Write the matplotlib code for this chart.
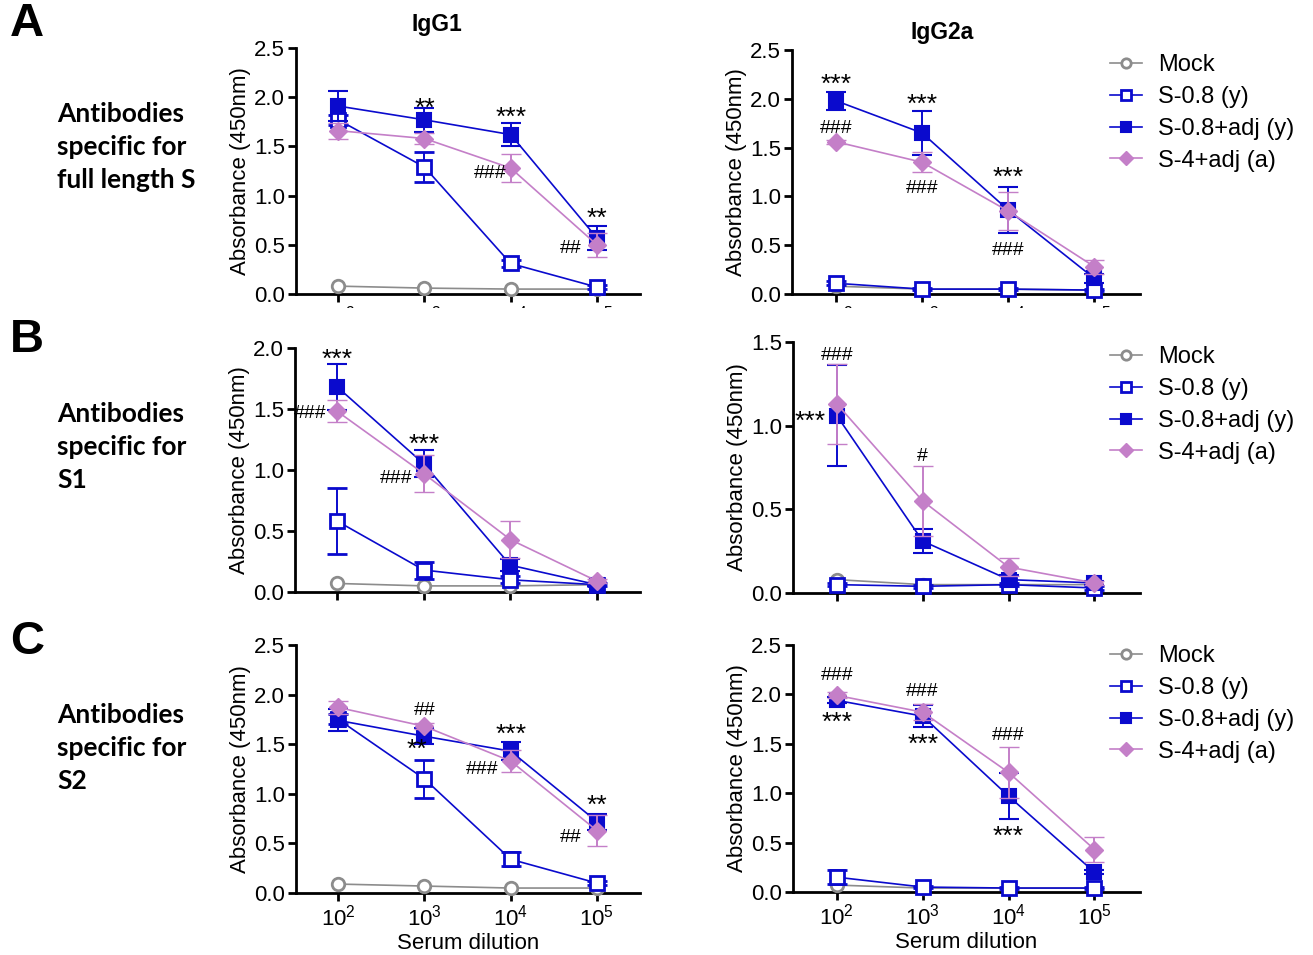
import numpy as np
import matplotlib
matplotlib.use("Agg")
import matplotlib.pyplot as plt
from matplotlib.patches import Rectangle

plt.rcParams['font.family'] = ['Liberation Sans', 'DejaVu Sans']
plt.rcParams['mathtext.fontset'] = 'custom'
plt.rcParams['mathtext.rm'] = 'Liberation Sans'
plt.rcParams['mathtext.it'] = 'Liberation Sans'

# Serum dilutions
dilution = [1e2, 1e3, 1e4, 1e5]
groups = ['Mock', 'S-0.8 (y)', 'S-0.8+adj (y)', 'S-4+adj (a)']

# Mean absorbance per panel: rows = groups, columns = dilutions
fl_igg1 = [[0.08, 0.06, 0.05, 0.05],
           [1.77, 1.29, 0.31, 0.07],
           [1.91, 1.77, 1.62, 0.57],
           [1.66, 1.58, 1.28, 0.50]]
fl_igg1_err = [[0.0, 0.0, 0.0, 0.0],
               [0.05, 0.15, 0.04, 0.02],
               [0.15, 0.12, 0.12, 0.12],
               [0.08, 0.06, 0.14, 0.12]]
fl_igg2a = [[0.08, 0.05, 0.05, 0.04],
            [0.11, 0.05, 0.05, 0.04],
            [1.98, 1.65, 0.86, 0.16],
            [1.56, 1.35, 0.85, 0.28]]
fl_igg2a_err = [[0.0, 0.0, 0.0, 0.0],
                [0.02, 0.01, 0.01, 0.01],
                [0.09, 0.23, 0.24, 0.05],
                [0.02, 0.10, 0.19, 0.07]]
s1_igg1 = [[0.07, 0.05, 0.05, 0.06],
           [0.58, 0.18, 0.10, 0.06],
           [1.68, 1.05, 0.22, 0.06],
           [1.48, 0.97, 0.43, 0.09]]
s1_igg1_err = [[0.0, 0.0, 0.0, 0.0],
               [0.27, 0.07, 0.03, 0.01],
               [0.19, 0.11, 0.05, 0.01],
               [0.09, 0.15, 0.15, 0.02]]
s1_igg2a = [[0.08, 0.05, 0.05, 0.05],
            [0.05, 0.04, 0.05, 0.03],
            [1.06, 0.31, 0.08, 0.06],
            [1.13, 0.55, 0.155, 0.06]]
s1_igg2a_err = [[0.0, 0.0, 0.0, 0.0],
                [0.01, 0.01, 0.01, 0.01],
                [0.30, 0.07, 0.03, 0.01],
                [0.24, 0.21, 0.055, 0.01]]
s2_igg1 = [[0.09, 0.07, 0.05, 0.05],
           [1.75, 1.15, 0.34, 0.10],
           [1.74, 1.58, 1.43, 0.72],
           [1.87, 1.68, 1.33, 0.63]]
s2_igg1_err = [[0.0, 0.0, 0.0, 0.0],
               [0.05, 0.19, 0.07, 0.02],
               [0.11, 0.08, 0.09, 0.08],
               [0.065, 0.03, 0.11, 0.16]]
s2_igg2a = [[0.07, 0.04, 0.04, 0.04],
            [0.15, 0.05, 0.04, 0.04],
            [1.94, 1.78, 0.97, 0.20],
            [1.99, 1.82, 1.21, 0.43]]
s2_igg2a_err = [[0.0, 0.0, 0.0, 0.0],
                [0.07, 0.01, 0.01, 0.01],
                [0.03, 0.11, 0.23, 0.02],
                [0.03, 0.08, 0.26, 0.13]]

# significance marks: (dilution, y, text, x offset in px; nonzero -> right aligned)
ann_fl_igg1 = [(1e3, 1.93, '**', 0), (1e4, 1.84, '***', 0), (1e4, 1.24, '###', -4),
               (1e5, 0.81, '**', 0), (1e5, 0.48, '##', -15)]
ann_fl_igg2a = [(1e2, 2.19, '***', 0), (1e2, 1.72, '###', 0), (1e3, 1.99, '***', 0),
                (1e3, 1.10, '###', 0), (1e4, 1.24, '***', 0), (1e4, 0.47, '###', 0)]
ann_s1_igg1 = [(1e2, 1.945, '***', 0), (1e2, 1.48, '###', -11),
               (1e3, 1.25, '***', 0), (1e3, 0.95, '###', -11)]
ann_s1_igg2a = [(1e2, 1.43, '###', 0), (1e2, 1.05, '***', -11), (1e3, 0.83, '#', 0)]
ann_s2_igg1 = [(1e3, 1.86, '##', 0), (1e3, 1.49, '**', 3), (1e4, 1.64, '***', 0),
               (1e4, 1.27, '###', -12), (1e5, 0.93, '**', 0), (1e5, 0.58, '##', -15)]
ann_s2_igg2a = [(1e2, 2.21, '###', 0), (1e2, 1.76, '***', 0), (1e3, 2.05, '###', 0),
                (1e3, 1.54, '***', 0), (1e4, 1.60, '###', 0), (1e4, 0.61, '***', 0)]

gray = '#8c8c8c'
blue = '#0a0acd'
lilac = '#c47fc8'
styles = [dict(color=gray, marker='o', mfc='white', mec=gray, ms=9, mew=2.0, lw=1.2),
          dict(color=blue, marker='s', mfc='white', mec=blue, ms=10, mew=2.0, lw=1.2),
          dict(color=blue, marker='s', mfc=blue, mec=blue, ms=10, mew=1.5, lw=1.2),
          dict(color=lilac, marker='D', mfc=lilac, mec=lilac, ms=9, mew=1.0, lw=1.2)]

W, H = 1313, 955
fig = plt.figure(figsize=(W / 100, H / 100), dpi=100)


def px_axes(l, t, r, b):
    return fig.add_axes([l / W, 1 - b / H, (r - l) / W, (b - t) / H])


def panel(ax, vals, errs, ann, ymax, xlim, legend_top=None):
    handles = []
    for g in range(4):
        st = styles[g]
        yerr = errs[g] if any(errs[g]) else None
        c = ax.errorbar(dilution, vals[g], yerr=yerr, color=st['color'], lw=st['lw'],
                        marker=st['marker'], ms=st['ms'], mfc=st['mfc'], mec=st['mec'],
                        mew=st['mew'], elinewidth=1.4, capsize=7, capthick=1.4,
                        clip_on=False, zorder=3 + g, label=groups[g])
        handles.append(c.lines[0])
    for x, y, t, dx in ann:
        star = '*' in t
        ax.annotate(t, xy=(x, y), xytext=(dx, -5 if star else -2),
                    textcoords='offset pixels', ha='center' if dx == 0 else 'right',
                    va='center', fontsize=19 if star else 14, zorder=10)
    ax.set_xscale('log')
    ax.set_xlim(*xlim)
    ax.set_ylim(0, ymax)
    ax.set_yticks(np.arange(0, ymax + 0.01, 0.5))
    ax.set_yticklabels(['%.1f' % v for v in np.arange(0, ymax + 0.01, 0.5)])
    ax.set_xticks(dilution)
    ax.set_xticklabels(['$10^{%d}$' % k for k in range(2, 6)])
    ax.minorticks_off()
    for s in ['top', 'right']:
        ax.spines[s].set_visible(False)
    for s in ['left', 'bottom']:
        ax.spines[s].set_linewidth(2.0)
    ax.tick_params(width=2.0, length=6, labelsize=16, pad=2)
    ax.set_ylabel('Absorbance (450nm)', fontsize=16, labelpad=2)
    ax.patch.set_alpha(0)
    if legend_top is not None:
        ax.legend(handles, groups, loc='upper left',
                  bbox_to_anchor=(1110 / W, 1 - legend_top / H),
                  bbox_transform=fig.transFigure, frameon=False, fontsize=17,
                  markerscale=0.75, handlelength=1.35, handletextpad=0.7,
                  labelspacing=0.42, borderaxespad=0, borderpad=0)


xl_left = (10 ** 1.51, 10 ** 5.5)
xl_right = (10 ** 1.49, 10 ** 5.53)

ax = px_axes(296, 48, 640, 294)
panel(ax, fl_igg1, fl_igg1_err, ann_fl_igg1, 2.5, xl_left)
ax = px_axes(792, 50, 1140, 294)
panel(ax, fl_igg2a, fl_igg2a_err, ann_fl_igg2a, 2.5, xl_right, legend_top=54)
ax = px_axes(295, 348, 640, 592)
panel(ax, s1_igg1, s1_igg1_err, ann_s1_igg1, 2.0, xl_left)
ax = px_axes(793, 342, 1140, 593)
panel(ax, s1_igg2a, s1_igg2a_err, ann_s1_igg2a, 1.5, xl_right, legend_top=346)
ax = px_axes(296, 645, 640, 893)
panel(ax, s2_igg1, s2_igg1_err, ann_s2_igg1, 2.5, xl_left)
ax.set_xlabel('Serum dilution', fontsize=16, labelpad=2)
ax = px_axes(793, 645, 1140, 892)
panel(ax, s2_igg2a, s2_igg2a_err, ann_s2_igg2a, 2.5, xl_right, legend_top=645)
ax.set_xlabel('Serum dilution', fontsize=16, labelpad=2)

# the rows overlap, hiding most of the upper tick labels
for top, bot in [(308, 330), (604, 628)]:
    fig.patches.append(Rectangle((0, 1 - bot / H), 1, (bot - top) / H,
                                 transform=fig.transFigure, facecolor='white',
                                 edgecolor='none', zorder=5))

fig.text(437 / W, 1 - 25 / H, 'IgG1', ha='center', va='center', fontsize=16.5,
         fontweight='bold', zorder=10)
fig.text(942 / W, 1 - 32 / H, 'IgG2a', ha='center', va='center', fontsize=16.5,
         fontweight='bold', zorder=10)

for letter, yc in [('A', 24), ('B', 340), ('C', 642)]:
    fig.text(10 / W, 1 - yc / H, letter, ha='left', va='center', fontsize=34,
             fontweight='bold', zorder=10)
row_labels = ['Antibodies\nspecific for\nfull length S', 'Antibodies\nspecific for\nS1',
              'Antibodies\nspecific for\nS2']
for lab, yc in zip(row_labels, [147, 447, 748]):
    fig.text(57 / W, 1 - yc / H, lab, ha='left', va='center', fontsize=19,
             fontweight='bold', family=['Lato', 'DejaVu Sans'], linespacing=1.47,
             zorder=10)

fig.savefig('out.png', dpi=100)
